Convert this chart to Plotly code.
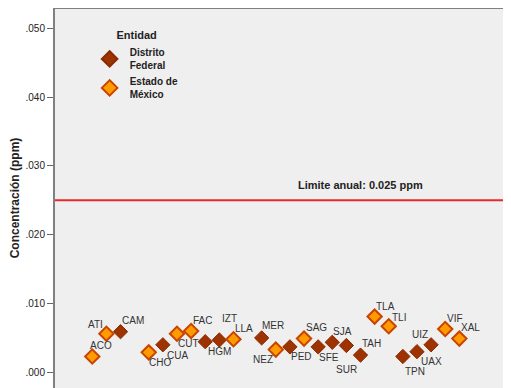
import plotly.graph_objects as go

# Station order along the x axis (two unlabeled empty slots)
orden = ["ACO", "ATI", "CAM", "_s1", "CHO", "CUA", "CUT", "FAC", "HGM", "IZT", "LLA",
         "_s2", "MER", "NEZ", "PED", "SAG", "SFE", "SJA", "SUR", "TAH", "TLA", "TLI",
         "TPN", "UAX", "UIZ", "VIF", "XAL"]

df_estaciones = ["CAM", "CUA", "HGM", "IZT", "MER", "PED", "SFE", "SJA", "SUR", "TAH",
                 "TPN", "UAX", "UIZ"]
df_valores = [0.0059, 0.0040, 0.00445, 0.0047, 0.0050, 0.0037, 0.0037, 0.00436, 0.0039,
              0.0025, 0.0023, 0.0030, 0.0040]

em_estaciones = ["ACO", "ATI", "CHO", "CUT", "FAC", "LLA", "NEZ", "SAG", "TLA", "TLI",
                 "VIF", "XAL"]
em_valores = [0.0023, 0.0056, 0.0029, 0.0056, 0.0060, 0.0048, 0.0033, 0.0049, 0.0081,
              0.0067, 0.0063, 0.0049]

limite = 0.025
tick_vals = [0.0, 0.01, 0.02, 0.03, 0.04, 0.05]
tick_text = [".000", ".010", ".020", ".030", ".040", ".050"]

# label offsets in pixels (dx, dy up)
label_off = {
    "ACO": (9, 11), "ATI": (-11, 9), "CAM": (12, 11), "CHO": (11, -10), "CUA": (15, -11),
    "CUT": (12, -10), "FAC": (11, 11), "HGM": (14, -10), "IZT": (10, 21), "LLA": (11, 11),
    "MER": (11, 12), "NEZ": (-13, -10), "PED": (12, -10), "SAG": (12, 11), "SFE": (11, -11),
    "SJA": (10, 11), "SUR": (0, -24), "TAH": (11, 12), "TLA": (11, 10), "TLI": (10, 9),
    "TPN": (12, -15), "UAX": (15, -10), "UIZ": (-11, 10), "VIF": (10, 10), "XAL": (11, 11),
}

fig = go.Figure()
fig.add_trace(go.Scatter(
    x=df_estaciones, y=df_valores, mode="markers", name="<b>Distrito<br>Federal</b>",
    marker=dict(symbol="diamond", size=11, color="#9c3300",
                line=dict(color="#8a2a00", width=1)),
))
fig.add_trace(go.Scatter(
    x=em_estaciones, y=em_valores, mode="markers", name="<b>Estado de<br>México</b>",
    marker=dict(symbol="diamond", size=11, color="#ff9a00",
                line=dict(color="#c84400", width=2)),
))

for est, val in list(zip(df_estaciones, df_valores)) + list(zip(em_estaciones, em_valores)):
    dx, dy = label_off[est]
    fig.add_annotation(x=est, y=val, text=est, showarrow=False, xshift=dx, yshift=dy,
                       font=dict(family="Liberation Sans, Arial", size=10, color="#333333"))

fig.add_shape(type="line", xref="paper", x0=0, x1=1, yref="y", y0=limite, y1=limite,
              line=dict(color="#e8282b", width=2))
fig.add_annotation(xref="paper", x=0.669, y=limite, yshift=15, showarrow=False,
                   xanchor="center", yanchor="middle",
                   text="<b>Limite anual: 0.025 ppm</b>",
                   font=dict(family="Liberation Sans, Arial", size=11, color="#222222"))
fig.add_shape(type="line", xref="paper", x0=0, x1=1, yref="paper", y0=1, y1=1,
              line=dict(color="#808080", width=2))

fig.update_layout(
    width=503, height=380,
    margin=dict(l=47, r=0, t=0, b=0, autoexpand=False),
    paper_bgcolor="white", plot_bgcolor="#efefef",
    font=dict(family="Liberation Sans, Arial", color="#222222"),
    showlegend=True,
    legend=dict(
        x=0.076, y=0.955, xanchor="left", yanchor="top",
        bgcolor="rgba(0,0,0,0)",
        title=dict(text="<b>Entidad</b>", side="top center",
                   font=dict(size=11, color="#222222")),
        font=dict(size=10, color="#222222", family="Liberation Sans, Arial"),
        itemsizing="constant", itemwidth=30, tracegroupgap=0,
    ),
    xaxis=dict(type="category", categoryorder="array", categoryarray=orden,
               range=[-2.64, 29.66], visible=False),
    yaxis=dict(range=[-0.00228, 0.05295], tickvals=tick_vals, ticktext=tick_text,
               ticks="outside", ticklen=6, tickcolor="#666666", tickwidth=1,
               showline=True, linecolor="#808080", linewidth=2, showgrid=False,
               zeroline=False, automargin=False, tickfont=dict(size=10, color="#222222"),
               title=dict(text="<b>Concentración (ppm)</b>", standoff=14,
                          font=dict(size=12, color="#222222"))),
)

fig.write_html("out.html")
